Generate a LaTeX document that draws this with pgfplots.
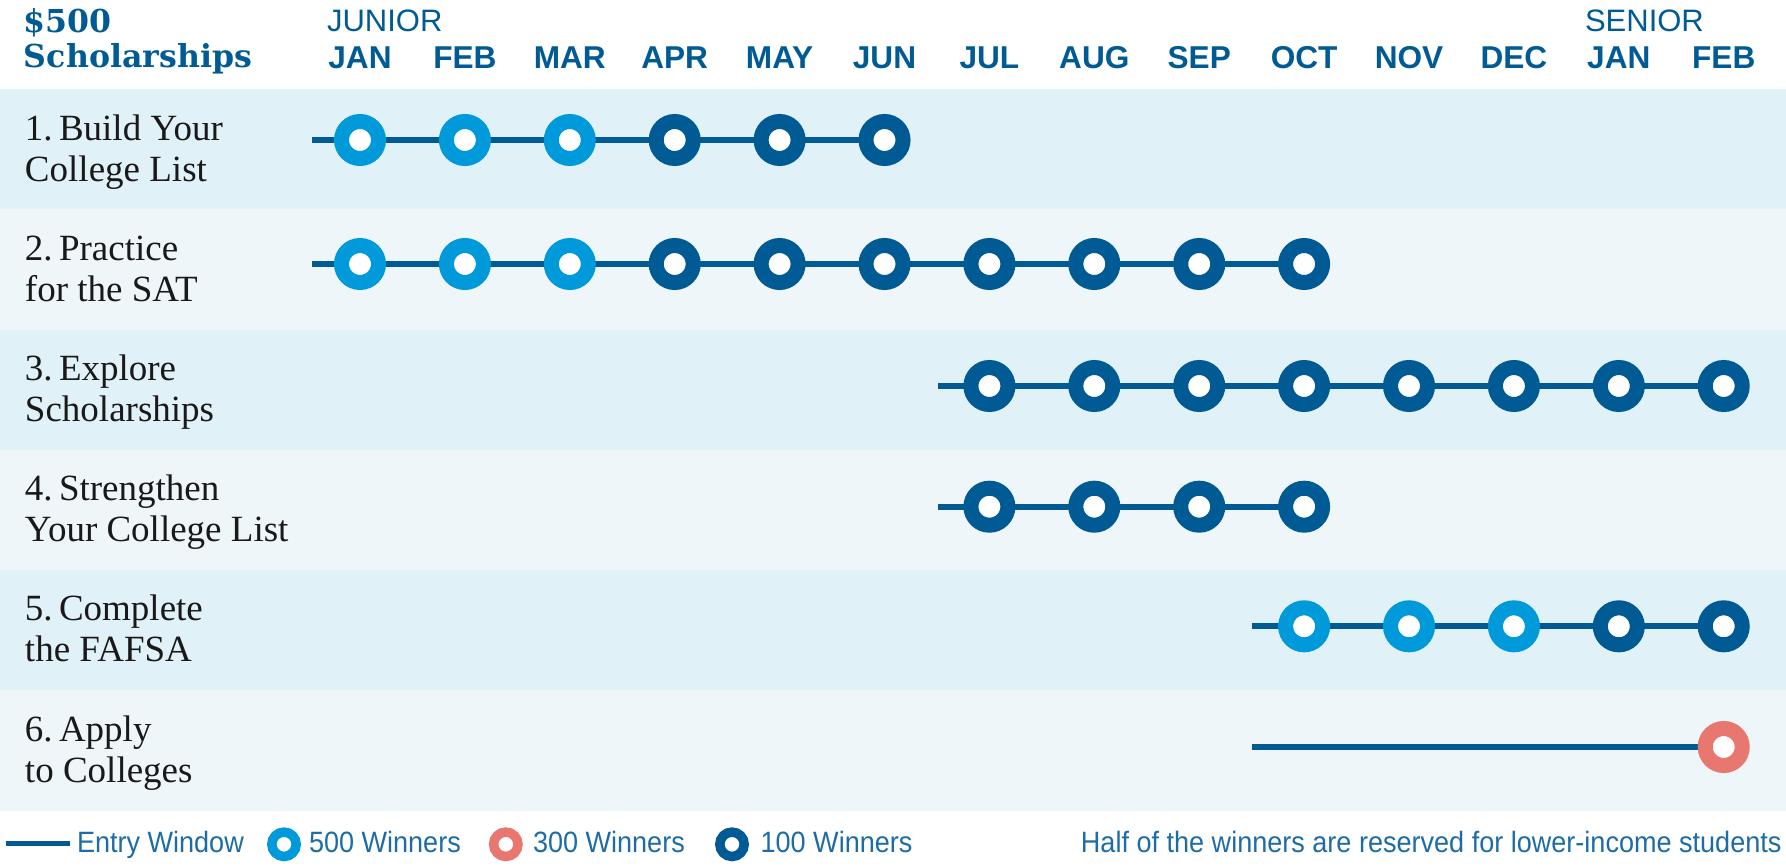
\documentclass[border=0pt]{standalone}
\usepackage{pgfplots}
\pgfplotsset{compat=1.18}
\usepackage{fontspec}
\setmainfont{Liberation Sans}
\newfontfamily\monthfont{Liberation Sans}
\newfontfamily\titlefont{DejaVu Serif}
\newfontfamily\rowfont{Liberation Serif}
\newfontfamily\legfont[FakeStretch=0.92]{Liberation Sans}
\definecolor{dblue}{HTML}{005B94}
\definecolor{lblue}{HTML}{0099D9}
\definecolor{pinkc}{HTML}{E7776F}
\definecolor{bgA}{HTML}{E0F2F7}
\definecolor{bgB}{HTML}{EEF6FA}
\definecolor{legtext}{HTML}{1D6CA6}
\tikzset{
  every node/.append style={inner sep=0pt, outer sep=0pt},
  mon/.style={anchor=base, text=dblue, font={\monthfont\bfseries\fontsize{15.8}{18}\selectfont}},
  yr/.style={anchor=base west, text=dblue, font={\monthfont\fontsize{15.5}{18}\selectfont}},
  rl/.style={anchor=base west, text=black!90, font={\rowfont\fontsize{18.5}{20.5}\selectfont}},
  lg/.style={anchor=base west, text=legtext, font={\legfont\fontsize{14.7}{17}\selectfont}},
}
\newcommand{\nsp}{\hspace{0.17em}}
\pgfplotsset{
  ring/.style={only marks, mark=*, mark size=9.25pt, mark options={draw=#1, fill=white, line width=7.5pt}},
  lring/.style={only marks, mark=*, mark size=6.1pt, mark options={draw=#1, fill=white, line width=4.75pt}},
  win/.style={dblue, line width=3pt, no marks},
}
\begin{document}
\begin{tikzpicture}
\begin{axis}[name=ax, scale only axis, width=893pt, height=433pt,
  xmin=0, xmax=1786, ymin=0, ymax=866, y dir=reverse,
  axis lines=none, clip=false]
% row backgrounds
\fill[bgA] (axis cs:0,89) rectangle (axis cs:1786,209.5);
\fill[bgB] (axis cs:0,209.5) rectangle (axis cs:1786,329.5);
\fill[bgA] (axis cs:0,329.5) rectangle (axis cs:1786,449.5);
\fill[bgB] (axis cs:0,449.5) rectangle (axis cs:1786,569.5);
\fill[bgA] (axis cs:0,569.5) rectangle (axis cs:1786,690);
\fill[bgB] (axis cs:0,690) rectangle (axis cs:1786,810.5);
% entry windows (month index, pixel row)
\addplot[win] table[x expr=360+104.9*\thisrow{m}, y=y] {
m y
-0.46 140
5 140
};
\addplot[win] table[x expr=360+104.9*\thisrow{m}, y=y] {
m y
-0.46 264
9 264
};
\addplot[win] table[x expr=360+104.9*\thisrow{m}, y=y] {
m y
5.51 386
13 386
};
\addplot[win] table[x expr=360+104.9*\thisrow{m}, y=y] {
m y
5.51 506.7
9 506.7
};
\addplot[win] table[x expr=360+104.9*\thisrow{m}, y=y] {
m y
8.5 626.3
13 626.3
};
\addplot[win] table[x expr=360+104.9*\thisrow{m}, y=y] {
m y
8.5 747
13 747
};
% 500 winners
\addplot[ring=lblue] table[x expr=360+104.9*\thisrow{m}, y=y] {
m y
0 140
1 140
2 140
0 264
1 264
2 264
9 626.3
10 626.3
11 626.3
};
% 100 winners
\addplot[ring=dblue] table[x expr=360+104.9*\thisrow{m}, y=y] {
m y
3 140
4 140
5 140
3 264
4 264
5 264
6 264
7 264
8 264
9 264
6 386
7 386
8 386
9 386
10 386
11 386
12 386
13 386
6 506.7
7 506.7
8 506.7
9 506.7
12 626.3
13 626.3
};
% 300 winners
\addplot[ring=pinkc] table[x expr=360+104.9*\thisrow{m}, y=y] {
m y
13 747
};
% header
\node[anchor=base west, text=dblue, font={\titlefont\bfseries\fontsize{15.8}{18}\selectfont}] at (axis cs:24,33) {\$500};
\node[anchor=base west, text=dblue, font={\titlefont\bfseries\fontsize{15.8}{18}\selectfont}] at (axis cs:24,68) {Scholarships};
\node[yr] at (axis cs:327,32) {JUNIOR};
\node[yr] at (axis cs:1585,32) {SENIOR};
\node[mon] at (axis cs:360,69) {JAN};
\node[mon] at (axis cs:464.9,69) {FEB};
\node[mon] at (axis cs:569.8,69) {MAR};
\node[mon] at (axis cs:674.7,69) {APR};
\node[mon] at (axis cs:779.6,69) {MAY};
\node[mon] at (axis cs:884.5,69) {JUN};
\node[mon] at (axis cs:989.4,69) {JUL};
\node[mon] at (axis cs:1094.3,69) {AUG};
\node[mon] at (axis cs:1199.2,69) {SEP};
\node[mon] at (axis cs:1304.1,69) {OCT};
\node[mon] at (axis cs:1409,69) {NOV};
\node[mon] at (axis cs:1513.9,69) {DEC};
\node[mon] at (axis cs:1618.8,69) {JAN};
\node[mon] at (axis cs:1723.7,69) {FEB};
% row labels
\node[rl] at (axis cs:25,140.2) {1.\nsp Build Your};
\node[rl] at (axis cs:25,181.2) {College List};
\node[rl] at (axis cs:25,260.5) {2.\nsp Practice};
\node[rl] at (axis cs:25,301.5) {for the SAT};
\node[rl] at (axis cs:25,380.5) {3.\nsp Explore};
\node[rl] at (axis cs:25,421.5) {Scholarships};
\node[rl] at (axis cs:25,500.5) {4.\nsp Strengthen};
\node[rl] at (axis cs:25,541.5) {Your College List};
\node[rl] at (axis cs:25,620.7) {5.\nsp Complete};
\node[rl] at (axis cs:25,661.7) {the FAFSA};
\node[rl] at (axis cs:25,741.2) {6.\nsp Apply};
\node[rl] at (axis cs:25,782.2) {to Colleges};
% legend
\addplot[dblue, line width=2.5pt, no marks] coordinates {(6,843) (70,843)};
\addplot[lring=lblue] coordinates {(284,844.3)};
\addplot[lring=pinkc] coordinates {(505.8,844.3)};
\addplot[lring=dblue] coordinates {(732,844.3)};
\node[lg] at (axis cs:77,852.7) {Entry Window};
\node[lg] at (axis cs:309,852.7) {500 Winners};
\node[lg] at (axis cs:533,852.7) {300 Winners};
\node[lg] at (axis cs:760.6,852.7) {100 Winners};
\node[lg, anchor=base east] at (axis cs:1781.5,852.7) {Half of the winners are reserved for lower-income students};
\end{axis}
\pgfresetboundingbox
\path[use as bounding box] (ax.south west) rectangle (ax.north east);
\end{tikzpicture}
\end{document}
